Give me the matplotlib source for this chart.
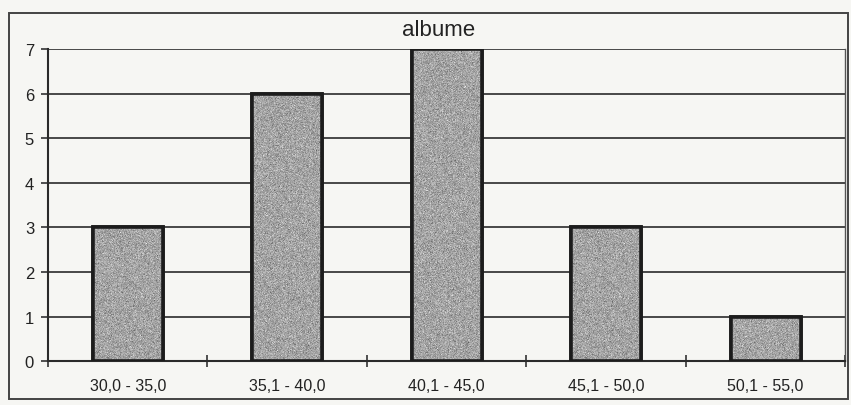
import numpy as np
import matplotlib.pyplot as plt
from matplotlib.patches import Rectangle

plt.rcParams['font.family'] = ['Liberation Sans', 'DejaVu Sans']

# Clase de valori si frecvente
categorii = ['30,0 - 35,0', '35,1 - 40,0', '40,1 - 45,0', '45,1 - 50,0', '50,1 - 55,0']
frecvente = [3, 6, 7, 3, 1]
titlu = 'albume'

hartie = '#f6f6f3'
fig = plt.figure(figsize=(8.51, 4.06), dpi=100, facecolor=hartie)
ax = fig.add_axes([0.0564, 0.108, 0.937, 0.769])
ax.set_facecolor(hartie)

x = np.arange(len(categorii))
bars = ax.bar(x, frecvente, width=0.44, color='#a4a4a4',
              edgecolor='#1c1c1c', linewidth=2.6, zorder=3)

# textura granulata in interiorul coloanelor
rng = np.random.default_rng(3)
zgomot = rng.normal(0.64, 0.07, size=(400, 120))
for b in bars:
    im = ax.imshow(zgomot, cmap='gray', vmin=0, vmax=1, aspect='auto',
                   extent=(b.get_x(), b.get_x() + b.get_width(), 0, b.get_height()),
                   zorder=3.5, interpolation='nearest')
    im.set_clip_path(b)
    ax.add_patch(Rectangle((b.get_x(), 0), b.get_width(), b.get_height(),
                           fill=False, edgecolor='#1c1c1c', linewidth=2.6, zorder=4))

ax.set_xlim(-0.5, len(categorii) - 0.5)
ax.set_ylim(0, 7)
ax.set_yticks(range(8))
ax.yaxis.grid(True, color='#3a3a3a', linewidth=1.3, zorder=1)
ax.set_xticks(x)
ax.set_xticklabels(categorii, fontsize=11.5, color='#222')
ax.tick_params(axis='x', length=0, pad=12)
ax.set_xticks(np.arange(len(categorii) + 1) - 0.5, minor=True)
ax.tick_params(axis='x', which='minor', direction='inout', length=8, width=1.2, color='#333')
ax.tick_params(axis='y', labelsize=12, labelcolor='#222', length=5, width=1.2,
               color='#333', pad=5)

ax.spines['top'].set_visible(False)
ax.spines['right'].set_color('#555')
ax.spines['right'].set_linewidth(1.0)
ax.spines['left'].set_color('#2a2a2a')
ax.spines['left'].set_linewidth(1.5)
ax.spines['bottom'].set_color('#2a2a2a')
ax.spines['bottom'].set_linewidth(1.5)

fig.text(439 / 851, 1 - 30 / 406, titlu, fontsize=16, color='#222',
         ha='center', va='center')

# chenarul exterior al diagramei
fig.patches.append(Rectangle((9 / 851, 6 / 406), 839 / 851, 386 / 406, fill=False,
                             edgecolor='#444', linewidth=1.4,
                             transform=fig.transFigure, figure=fig))

fig.savefig('out.png', dpi=100, facecolor=hartie)
